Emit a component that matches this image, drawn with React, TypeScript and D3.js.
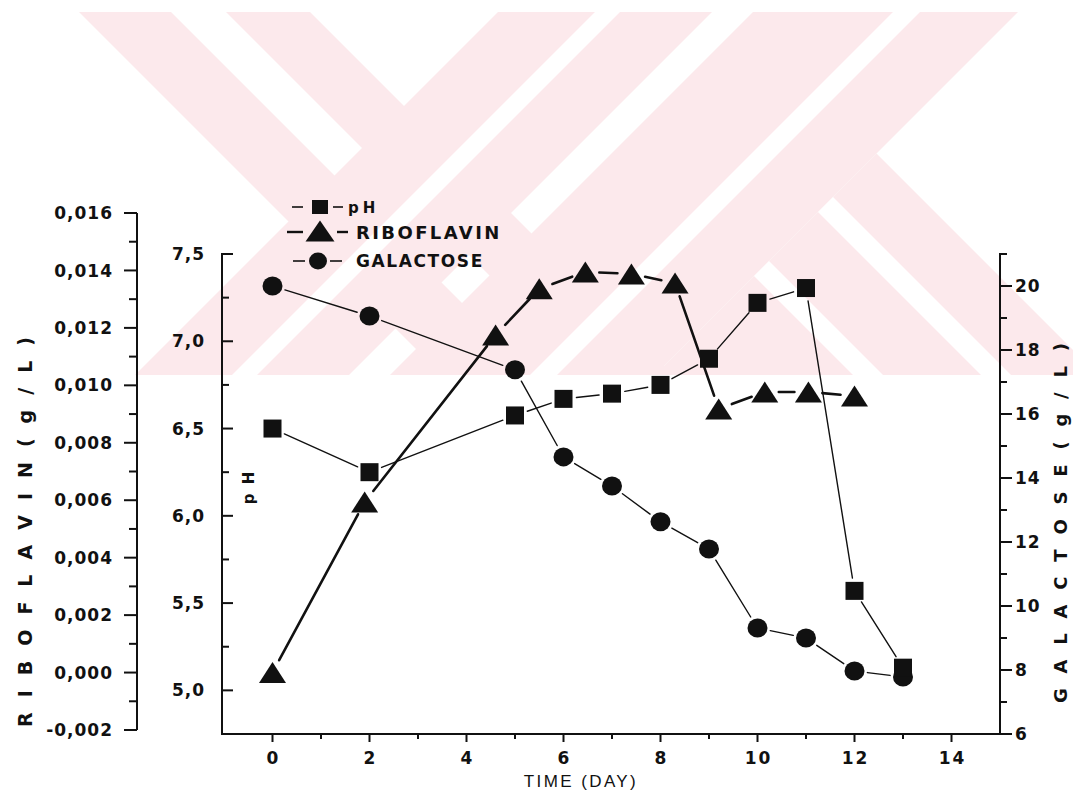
import React from 'react';
import * as d3 from 'd3';

// ---------- data ----------
const days = [0, 2, 5, 6, 7, 8, 9, 10, 11, 12, 13];
const phValues = [6.5, 6.25, 6.575, 6.67, 6.7, 6.75, 6.9, 7.22, 7.305, 5.57, 5.13];
const galactoseValues = [20.0, 19.06, 17.38, 14.66, 13.75, 12.63, 11.78, 9.31, 9.0, 7.97, 7.78];
const riboflavinDays = [0, 1.9, 4.6, 5.5, 6.45, 7.4, 8.3, 9.2, 10.15, 11.05, 12];
const riboflavinValues = [0.0, 0.00594, 0.01175, 0.01336, 0.01395, 0.01388, 0.01356, 0.00918, 0.00977, 0.00977, 0.00963];

const xTickValues = [0, 2, 4, 6, 8, 10, 12, 14];
const phTickValues = [5.0, 5.5, 6.0, 6.5, 7.0, 7.5];
const riboflavinTickValues = [-0.002, 0.0, 0.002, 0.004, 0.006, 0.008, 0.01, 0.012, 0.014, 0.016];
const galactoseTickValues = [6, 8, 10, 12, 14, 16, 18, 20];
const legendLabels = ['pH', 'RIBOFLAVIN', 'GALACTOSE'];
const xTitle = 'TIME (DAY)';
const riboTitle = 'R I B O F L A V I N    ( g / L )';
const galTitle = 'G A L A C T O S E    ( g / L )';
const phTitle = 'p H';

// ---------- layout ----------
const W = 1073;
const H = 793;
const locale = d3.formatLocale({ decimal: ',', thousands: '.', grouping: [3], currency: ['', ''], minus: '-' });
const fmt3 = locale.format('.3f');
const fmt1 = locale.format('.1f');

const x = d3.scaleLinear().domain([-1, 15]).range([224, 1000]);
const yPh = d3.scaleLinear().domain([4.75, 7.5]).range([734, 254]);
const yGal = d3.scaleLinear().domain([6, 21]).range([734, 254]);
const yRibo = d3.scaleLinear().domain([-0.002, 0.016]).range([730, 213]);
const riboAxisX = 137;

const TICK_FONT = "'DejaVu Sans', 'Liberation Sans', Arial, sans-serif";
const INK = '#111';
const PINK = '#fce9ec';

type P = [number, number];

function gapped(pts: P[], gap: number): P[][] {
  const out: P[][] = [];
  for (let i = 0; i < pts.length - 1; i++) {
    const [x0, y0] = pts[i];
    const [x1, y1] = pts[i + 1];
    const dx = x1 - x0, dy = y1 - y0;
    const L = Math.hypot(dx, dy);
    if (L <= 2 * gap) continue;
    const ux = dx / L, uy = dy / L;
    out.push([[x0 + ux * gap, y0 + uy * gap], [x1 - ux * gap, y1 - uy * gap]]);
  }
  return out;
}

const line = d3.line<P>();

function tri(cx: number, cy: number, w = 27, h = 21) {
  return `M${cx},${cy - h / 2}L${cx + w / 2},${cy + h / 2}L${cx - w / 2},${cy + h / 2}Z`;
}

// watermark helpers (diagonal bands, 45deg)
const Y0 = 12, Y1 = 375;
function backBand(lo: number, hi: number) { // "\" : x - y in [lo,hi]
  return `M${lo + Y0},${Y0}L${hi + Y0},${Y0}L${hi + Y1},${Y1}L${lo + Y1},${Y1}Z`;
}
function fwdBand(lo: number, hi: number) { // "/" : x + y in [lo,hi]
  return `M${lo - Y0},${Y0}L${hi - Y0},${Y0}L${hi - Y1},${Y1}L${lo - Y1},${Y1}Z`;
}
function wedge(sumMin: number, diffMax: number) { // x+y>=sumMin, x-y<=diffMax
  const cx = (sumMin + diffMax) / 2, cy = (sumMin - diffMax) / 2;
  return `M${cx},${cy}L${diffMax + Y1},${Y1}L${sumMin - Y1},${Y1}Z`;
}
function legStripe(sumMin: number, lo: number, hi: number) { // "\" stripe starting at x+y=sumMin
  const p1 = [(sumMin + lo) / 2, (sumMin - lo) / 2];
  const p2 = [(sumMin + hi) / 2, (sumMin - hi) / 2];
  return `M${p1[0]},${p1[1]}L${p2[0]},${p2[1]}L${hi + Y1},${Y1}L${lo + Y1},${Y1}Z`;
}

export default function App() {
  const phPts: P[] = days.map((d, i) => [x(d), yPh(phValues[i])]);
  const galPts: P[] = days.map((d, i) => [x(d), yGal(galactoseValues[i])]);
  const riboPts: P[] = riboflavinDays.map((d, i) => [x(d), yRibo(riboflavinValues[i])]);

  const xMinor = d3.range(0, 15, 1);
  const phMinor = d3.range(0, 11).map((i) => 5.0 + i * 0.25);
  const riboMinor = d3.range(0, 19).map((i) => -0.002 + i * 0.001);
  const galMinor = d3.range(6, 22, 1);

  const tickText = { fontFamily: TICK_FONT, fontWeight: 700, fontSize: 17, letterSpacing: 1, fill: INK } as const;

  return (
    <svg width={W} height={H} viewBox={`0 0 ${W} ${H}`} style={{ position: 'absolute', left: 0, top: 0, display: 'block', background: '#fff' }}>
      <defs>
        <clipPath id="wm">
          <rect x={0} y={Y0} width={W} height={Y1 - Y0} />
        </clipPath>
      </defs>
      <rect x={0} y={0} width={W} height={H} fill="#fff" />
      {/* watermark */}
      <g clipPath="url(#wm)">
        <path d={backBand(67, 159)} fill={PINK} />
        <path d={backBand(214, 298)} fill={PINK} />
        <path d={fwdBand(510, 724)} fill={PINK} />
        <path d={fwdBand(765, 1030)} fill={PINK} />
        <path d={wedge(1030, 723)} fill={PINK} />
        <path d={fwdBand(607, 632)} fill="#fff" />
        <path d={fwdBand(905, 932)} fill="#fff" />
        <path d={legStripe(1030, 478, 508)} fill="#fff" />
        <path d={legStripe(1030, 606, 636)} fill="#fff" />
      </g>

      {/* riboflavin axis (far left) */}
      <g stroke={INK} strokeWidth={2}>
        <line x1={riboAxisX} x2={riboAxisX} y1={yRibo(0.016)} y2={yRibo(-0.002)} />
        {riboMinor.map((v, i) => {
          const major = i % 2 === 0;
          return <line key={i} x1={riboAxisX} x2={riboAxisX - (major ? 13 : 8)} y1={yRibo(v)} y2={yRibo(v)} />;
        })}
      </g>
      {riboflavinTickValues.map((v) => (
        <text key={v} x={113} y={yRibo(v)} dy="0.36em" textAnchor="end" {...tickText}>{fmt3(v)}</text>
      ))}

      {/* pH axis */}
      <g stroke={INK} strokeWidth={2}>
        <line x1={222} x2={222} y1={254} y2={735} />
        {phMinor.map((v, i) => {
          const major = i % 2 === 0;
          return <line key={i} x1={221} x2={221 + (major ? 12 : 8)} y1={yPh(v)} y2={yPh(v)} />;
        })}
      </g>
      {phTickValues.map((v) => (
        <text key={v} x={205} y={yPh(v)} dy="0.36em" textAnchor="end" {...tickText}>{fmt1(v)}</text>
      ))}
      <text transform={`translate(254,487) rotate(-90)`} textAnchor="middle" fontFamily={TICK_FONT} fontWeight={700} fontSize={15} letterSpacing={2} fill={INK}>{phTitle}</text>

      {/* x axis */}
      <g stroke={INK} strokeWidth={2}>
        <line x1={221} x2={1001} y1={734} y2={734} />
        {xMinor.map((v) => {
          const major = v % 2 === 0;
          return <line key={v} x1={x(v)} x2={x(v)} y1={734} y2={734 + (major ? 8 : 5)} />;
        })}
      </g>
      {xTickValues.map((v) => (
        <text key={v} x={x(v) + 1} y={764} textAnchor="middle" {...tickText} letterSpacing={2}>{String(v)}</text>
      ))}
      <text x={581} y={787} textAnchor="middle" fontFamily="'Liberation Sans', Arial, sans-serif" fontSize={17} letterSpacing={2.4} fill={INK}>{xTitle}</text>

      {/* galactose axis (right) */}
      <g stroke={INK} strokeWidth={2}>
        <line x1={1000} x2={1000} y1={254} y2={735} />
        {galMinor.map((v) => {
          const major = v % 2 === 0;
          return <line key={v} x1={999} x2={999 + (major ? 13 : 8)} y1={yGal(v)} y2={yGal(v)} />;
        })}
      </g>
      {galactoseTickValues.map((v) => (
        <text key={v} x={1015} y={yGal(v)} dy="0.36em" textAnchor="start" {...tickText}>{String(v)}</text>
      ))}

      {/* axis titles */}
      <text transform={`translate(32,532) rotate(-90)`} textAnchor="middle" fontFamily={TICK_FONT} fontWeight={700} fontSize={19} textLength={390} lengthAdjust="spacing" fill={INK}>{riboTitle}</text>
      <text transform={`translate(1067,523) rotate(-90)`} textAnchor="middle" fontFamily={TICK_FONT} fontWeight={700} fontSize={18} textLength={360} lengthAdjust="spacing" fill={INK}>{galTitle}</text>

      {/* series lines */}
      <g fill="none" stroke={INK} strokeLinecap="round">
        {gapped(galPts, 13).map((s, i) => <path key={'g' + i} d={line(s) || ''} strokeWidth={1.4} />)}
        {gapped(phPts, 13).map((s, i) => <path key={'p' + i} d={line(s) || ''} strokeWidth={1.4} />)}
        {gapped(riboPts, 14).map((s, i) => <path key={'r' + i} d={line(s) || ''} strokeWidth={2.6} />)}
      </g>

      {/* markers */}
      <g fill={INK}>
        {galPts.map(([px, py], i) => <ellipse key={'gm' + i} cx={px} cy={py} rx={10} ry={9.5} />)}
        {phPts.map(([px, py], i) => <rect key={'pm' + i} x={px - 9} y={py - 9} width={18} height={18} />)}
        {riboPts.map(([px, py], i) => <path key={'rm' + i} d={tri(px, py)} />)}
      </g>

      {/* legend */}
      <g stroke={INK} strokeWidth={1.6}>
        <line x1={292} x2={303} y1={207} y2={207} />
        <line x1={333} x2={343} y1={207} y2={207} />
        <line x1={287} x2={303} y1={232} y2={232} strokeWidth={2.4} />
        <line x1={337} x2={348} y1={232} y2={232} strokeWidth={2.4} />
        <line x1={293} x2={305} y1={261} y2={261} />
        <line x1={330} x2={342} y1={261} y2={261} />
      </g>
      <g fill={INK}>
        <rect x={312} y={200} width={16} height={14} />
        <path d={tri(320, 231, 29, 21)} />
        <ellipse cx={318} cy={261} rx={9} ry={8.5} />
      </g>
      <text x={348} y={213} fontFamily={TICK_FONT} fontWeight={700} fontSize={15} letterSpacing={4} fill={INK}>{legendLabels[0]}</text>
      <text x={356} y={238.5} fontFamily={TICK_FONT} fontWeight={700} fontSize={18} letterSpacing={2.4} fill={INK}>{legendLabels[1]}</text>
      <text x={356} y={267} fontFamily={TICK_FONT} fontWeight={700} fontSize={17} letterSpacing={1.6} fill={INK}>{legendLabels[2]}</text>
    </svg>
  );
}
